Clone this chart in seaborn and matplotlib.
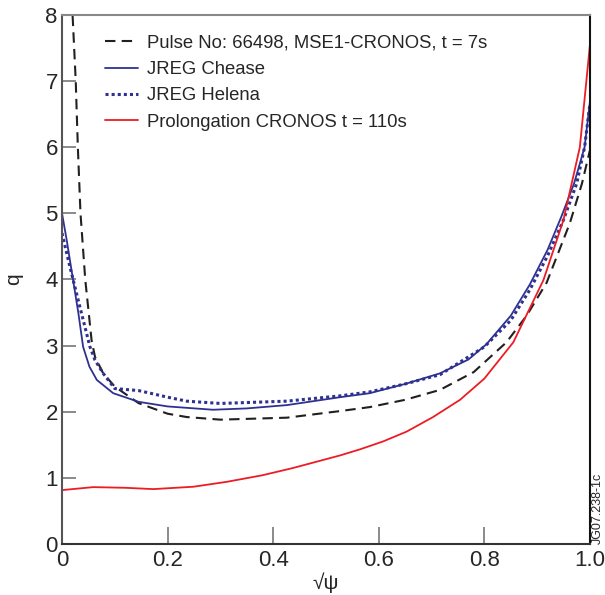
import seaborn as sns
import matplotlib
matplotlib.use("Agg")
import matplotlib.pyplot as plt

# --- data ---
chease_x = [0.0, 0.009, 0.021, 0.031, 0.04, 0.052, 0.066, 0.097, 0.145, 0.2, 0.286, 0.35,
            0.426, 0.527, 0.583, 0.65, 0.716, 0.77, 0.804, 0.85, 0.886, 0.92, 0.946,
            0.97, 0.99, 1.0]
chease_q = [5.0, 4.59, 3.99, 3.49, 2.98, 2.68, 2.48, 2.28, 2.15, 2.08, 2.03, 2.05,
            2.10, 2.22, 2.28, 2.42, 2.58, 2.79, 3.02, 3.45, 3.92, 4.45, 4.95,
            5.45, 6.0, 6.68]

helena_x = [0.0, 0.015, 0.034, 0.053, 0.0625, 0.078, 0.1, 0.145, 0.2, 0.236, 0.3, 0.426,
            0.527, 0.583, 0.65, 0.716, 0.8, 0.85, 0.886, 0.92, 0.95, 0.975, 0.99, 1.0]
helena_q = [4.7, 4.19, 3.58, 2.98, 2.78, 2.58, 2.35, 2.32, 2.22, 2.16, 2.125, 2.16,
            2.24, 2.30, 2.42, 2.56, 2.98, 3.38, 3.84, 4.36, 4.9, 5.45, 6.0, 6.65]

mse_x = [0.017, 0.020, 0.026, 0.030, 0.035, 0.044, 0.056, 0.0625, 0.078, 0.1, 0.145,
         0.2, 0.236, 0.3, 0.426, 0.527, 0.583, 0.65, 0.716, 0.78, 0.842, 0.88,
         0.918, 0.962, 0.985, 1.0]
mse_q = [8.5, 8.0, 7.0, 6.0, 5.0, 4.0, 3.08, 2.83, 2.58, 2.38, 2.13,
         1.97, 1.92, 1.88, 1.91, 2.01, 2.07, 2.18, 2.33, 2.6, 3.05, 3.45,
         3.95, 4.85, 5.45, 5.95]

prolong_x = [0.0, 0.059, 0.12, 0.173, 0.249, 0.312, 0.38, 0.438, 0.527, 0.564, 0.608,
             0.653, 0.703, 0.754, 0.8, 0.855, 0.912, 0.95, 0.981, 1.0]
prolong_q = [0.815, 0.86, 0.85, 0.83, 0.866, 0.94, 1.04, 1.15, 1.34, 1.43, 1.55,
             1.70, 1.92, 2.18, 2.5, 3.05, 3.99, 4.9, 6.0, 7.54]

x_ticks = [0, 0.2, 0.4, 0.6, 0.8, 1.0]
x_tick_labels = ["0", "0.2", "0.4", "0.6", "0.8", "1.0"]
y_ticks = [0, 1, 2, 3, 4, 5, 6, 7, 8]

sns.set_style("white")
plt.rcParams['font.family'] = ['Liberation Sans', 'DejaVu Sans']

fig, ax = plt.subplots(figsize=(6.05, 5.95), dpi=100)
fig.subplots_adjust(left=0.1025, right=0.975, top=0.975, bottom=0.0857)

blue = '#2e3192'
red = '#ed1c24'

sns.lineplot(x=mse_x, y=mse_q, ax=ax, sort=False, estimator=None, color='#231f20',
             linewidth=1.5, linestyle=(0, (5, 3)),
             label="Pulse No: 66498, MSE1-CRONOS, t = 7s")
sns.lineplot(x=chease_x, y=chease_q, ax=ax, sort=False, estimator=None, color=blue,
             linewidth=1.3, label="JREG Chease")
sns.lineplot(x=helena_x, y=helena_q, ax=ax, sort=False, estimator=None, color=blue,
             linewidth=2.2, linestyle=(0, (1, 1)), label="JREG Helena")
sns.lineplot(x=prolong_x, y=prolong_q, ax=ax, sort=False, estimator=None, color=red,
             linewidth=1.3, label="Prolongation CRONOS t = 110s")

ax.set_xlim(0, 1.0)
ax.set_ylim(0, 8)
ax.set_xticks(x_ticks)
ax.set_xticklabels(x_tick_labels)
ax.set_yticks(y_ticks)
ax.tick_params(axis='both', direction='in', labelsize=16, color='#777777',
               width=1.2, bottom=True, left=True, top=False, right=False)
ax.tick_params(axis='y', length=10, pad=3)
ax.tick_params(axis='x', length=12, pad=4)

ax.spines['top'].set_color('#888888')
ax.spines['left'].set_color('#555555')
ax.spines['bottom'].set_color('#333333')
ax.spines['right'].set_color('#111111')
for s in ax.spines.values():
    s.set_linewidth(1.5)

ax.set_xlabel("√ψ", fontsize=15, labelpad=1)
ax.set_ylabel("q", fontsize=15, labelpad=16)

ax.legend(loc='upper left', bbox_to_anchor=(0.06, 0.983), frameon=False,
          fontsize=13.3, handlelength=1.8, handletextpad=0.5, labelspacing=0.5,
          borderaxespad=0.2)

fig.text(0.988, 0.085, "JG07.238-1c", rotation=90, fontsize=9,
         ha='center', va='bottom')

fig.savefig("out.png", dpi=100)
